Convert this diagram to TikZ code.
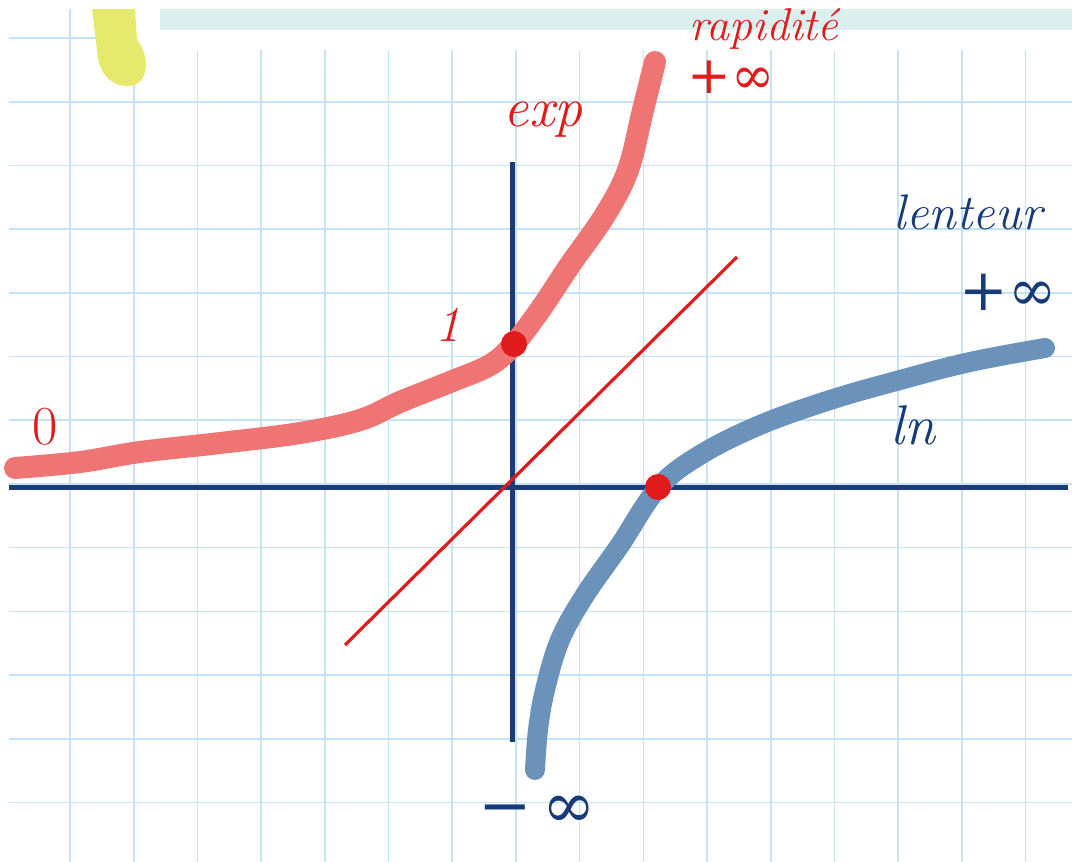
\documentclass[tikz,border=0pt]{standalone}
\usepackage{fontspec}
\newfontfamily\symf{DejaVu Serif}
\definecolor{gridblue}{HTML}{C6E2F5}
\definecolor{bandteal}{HTML}{DCEFEF}
\definecolor{hiyellow}{HTML}{E6EA6C}
\definecolor{axisnavy}{HTML}{1B3C74}
\definecolor{inknavy}{HTML}{173A78}
\definecolor{inkred}{HTML}{E01B1B}
\definecolor{expsalmon}{HTML}{EF7575}
\definecolor{lnblue}{HTML}{6B92BB}
\begin{document}
\begin{tikzpicture}[x=1pt,y=-1pt,
  gridline/.style={draw=gridblue, line width=1.6},
  axisline/.style={draw=axisnavy, line width=5},
  thickcurve/.style={line width=22, line cap=round, line join=round},
  hand/.style={font=\fontsize{50}{60}\selectfont\itshape, inner sep=0pt},
  redtext/.style={hand, text=inkred},
  bluetext/.style={hand, text=inknavy},
  symtext/.style={font=\fontsize{58}{64}\selectfont\symf, inner sep=0pt},
  dot/.style={circle, fill=inkred, minimum size=26, inner sep=0pt}]
\useasboundingbox (0,0) rectangle (1072,862);
\fill[white] (0,0) rectangle (1072,862);
% top band
\fill[bandteal] (160,9) rectangle (1072,30);
% grid
\draw[gridline] (70,9) -- (70,862);
\foreach \i in {1,...,15} \draw[gridline] ({70+63.7*\i},50) -- ({70+63.7*\i},862);
\draw[gridline] (9,38) -- (123,38);
\foreach \j in {1,...,12} \draw[gridline] (9,{38+63.7*\j}) -- (1072,{38+63.7*\j});
% yellow highlighter
\fill[hiyellow] (92,9) -- (135,9) -- (137,40) .. controls (150,55) and (150,86) .. (128,86) .. controls (108,86) and (98,70) .. (97,50) -- cycle;
% axes
\coordinate (xl) at (9,487);
\coordinate (xr) at (1068,487);
\coordinate (yt) at (512,162);
\coordinate (yb) at (512,742);
\draw[axisline] (xl) -- (xr);
\draw[axisline] (yt) -- (yb);
% y = x
\coordinate (dl) at (345,645);
\coordinate (dr) at (737,257);
\draw[inkred, line width=3.2] (dl) -- (dr);
% exp curve
\draw[thickcurve, expsalmon] plot[smooth, tension=0.6] coordinates {(15,468) (80,462) (140,452) (220,443) (300,433) (360,420) (400,402) (450,382) (490,365) (514,344) (540,310) (570,265) (605,215) (628,170) (643,110) (655,62)};
% ln curve
\draw[thickcurve, lnblue, line width=20] plot[smooth, tension=0.6] coordinates {(535,770) (538,730) (545,690) (560,640) (585,595) (620,545) (658,488) (700,455) (760,425) (830,400) (900,380) (970,362) (1045,348)};
% dots
\node[dot] (one) at (514,344) {};
\node[dot] (lnone) at (658,487) {};
% labels
\node[redtext, font=\fontsize{46}{52}\selectfont\itshape] (rap) at (764,29) {rapidit\'e};
\node[symtext, text=inkred, font=\fontsize{52}{58}\selectfont\symf] (pinfr) at (731,77) {+∞};
\node[redtext, font=\fontsize{56}{60}\selectfont\itshape] (exp) at (543,120) {exp};
\node[redtext] (un) at (448,325) {1};
\node[redtext, font=\fontsize{55}{60}\selectfont] (zero) at (45,427) {0};
\node[bluetext] (lent) at (968,212) {lenteur};
\node[symtext, text=inknavy] (pinfb) at (1008,292) {+∞};
\node[bluetext, font=\fontsize{56}{60}\selectfont\itshape] (ln) at (913,425) {ln};
\node[symtext, text=inknavy, font=\fontsize{64}{70}\selectfont\symf] (minf) at (537,812) {−\,∞};
\end{tikzpicture}
\end{document}
